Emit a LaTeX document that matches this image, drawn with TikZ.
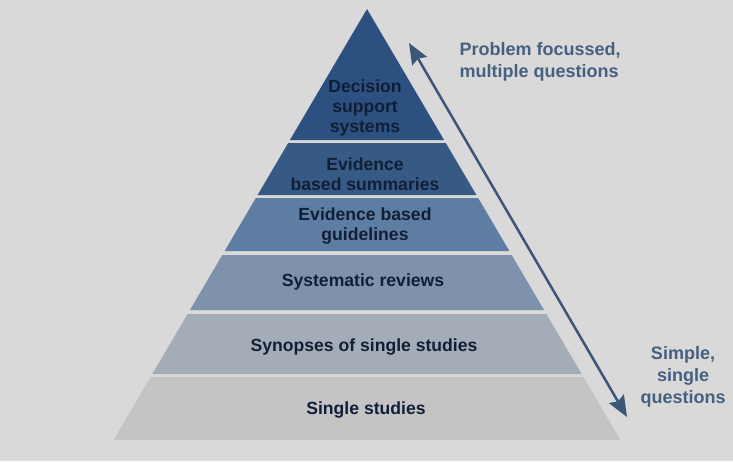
\documentclass[tikz,border=0pt]{standalone}
\usepackage{fontspec}
\setmainfont{Liberation Sans}
\usetikzlibrary{arrows.meta}
\definecolor{bgc}{HTML}{D9D9D9}
\definecolor{tA}{HTML}{2C5080}
\definecolor{tB}{HTML}{375A85}
\definecolor{tC}{HTML}{5E7DA3}
\definecolor{tD}{HTML}{7F92AB}
\definecolor{tE}{HTML}{A3ACB7}
\definecolor{tF}{HTML}{C4C4C4}
\definecolor{txt}{HTML}{111F36}
\definecolor{side}{HTML}{46607F}
\definecolor{arr}{HTML}{3B5677}
\newcommand\pyrtier[3]{%
  \pgfmathsetmacro\hwa{(#1-9)*0.5882}%
  \pgfmathsetmacro\hwb{(#2-9)*0.5882}%
  \fill[#3] (367-\hwa,#1) -- (367+\hwa,#1) -- (367+\hwb,#2) -- (367-\hwb,#2) -- cycle;}
\begin{document}
\begin{tikzpicture}[x=1pt,y=-1pt,
  tiertext/.style={text=txt,align=center,font=\bfseries\fontsize{17.6}{19.8}\selectfont},
  sidetext/.style={text=side,font=\bfseries\fontsize{18}{22}\selectfont}]
\useasboundingbox (0,0) rectangle (733,461);
\fill[bgc] (0,0) rectangle (733,461);
\pyrtier{9}{140}{tA}
\pyrtier{143}{195}{tB}
\pyrtier{198}{251}{tC}
\pyrtier{255}{310}{tD}
\pyrtier{314}{374}{tE}
\pyrtier{377}{440}{tF}
\node[tiertext] (t1) at (365,108) {Decision\\support\\systems};
\node[tiertext] (t2) at (365,174) {Evidence\\based summaries};
\node[tiertext] (t3) at (365,226) {Evidence based\\guidelines};
\node[tiertext] (t4) at (363,282) {Systematic reviews};
\node[tiertext] (t5) at (364,347) {Synopses of single studies};
\node[tiertext] (t6) at (366,410) {Single studies};
\node[sidetext,align=left,anchor=west] (top) at (456,62) {Problem focussed,\\multiple questions};
\node[sidetext,align=center] (bot) at (683,377) {Simple,\\single\\questions};
\coordinate (aTop) at (409,43);
\coordinate (aBot) at (627,417);
\draw[arr,line width=2.5pt,{Stealth[length=21pt,width=17pt,inset=3pt]}-{Stealth[length=21pt,width=17pt,inset=3pt]}] (aTop) -- (aBot);
\end{tikzpicture}
\end{document}
